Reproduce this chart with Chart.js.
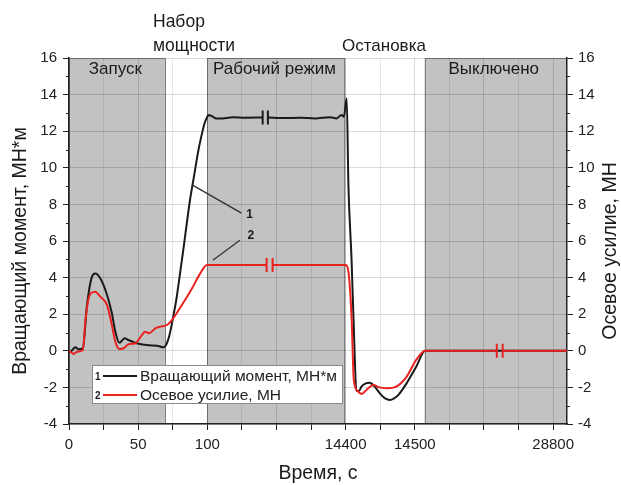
<!DOCTYPE html>
<html><head><meta charset="utf-8">
<script src="https://cdn.jsdelivr.net/npm/chart.js@4/dist/chart.umd.min.js"></script>
<style>html,body{margin:0;padding:0;background:#fff;}canvas{display:block}</style>
</head><body>
<canvas id="c" width="621" height="485"></canvas>
<script>
// ---- data (time in seconds, values in MN*m / MN) ----
const torqueTime  = [0,1,3,4.6,7,10,13,16.6,19,22.6,27.5,31,33.5,36.4,40.2,43,49,57.6,63.6,68.4,72,75.6,77.8,79.3,82.6,87.4,90.5,93.4,95.9,98.3,100,193,543,990,1402,2745,3986,5820,6090,6360,8119,9668,11217,12767,13460,13972,14213,14401.5,14404,14408.5,14412,14415.5,14419,14423,14429,14435,14442,14450,14457,14464,14470,14476,14488,14502,14516,18000,24000,28800,30400];
const torqueValue = [0,-0.05,0.1,0.2,0.08,0.13,2.5,4.05,4.23,3.96,3.05,2.05,1.04,0.44,0.68,0.59,0.41,0.3,0.28,0.19,0.68,1.96,2.9,3.7,5.5,8.2,9.6,10.9,11.8,12.5,12.78,12.89,12.83,12.7,12.69,12.76,12.74,12.75,null,12.75,12.72,12.73,12.7,12.76,12.7,12.89,12.79,13.8,9.0,5.0,1.0,-2.2,-2.2,-1.95,-1.78,-1.74,-1.96,-2.35,-2.6,-2.69,-2.6,-2.42,-1.78,-0.87,0,0,0,0,0];
const forceTime   = [0,1,3.4,5.8,10,11.8,14.2,17.1,19,22.6,27.5,31,33.5,36.4,39.5,43,48,52.7,55,58,62.4,66,70.8,74.4,81.6,88.9,94.9,99.7,1500,4000,6228,6540,6846,9000,12000,14399,14403.6,14408.5,14411.8,14418,14423,14430,14440,14449,14461,14473,14488,14502,14517,20000,22507,22835,23163,28800,30400];
const forceValue  = [0,-0.05,-0.17,-0.05,0.04,1.6,2.87,3.2,3.23,2.96,2.5,1.41,0.5,0.1,0.14,0.36,0.41,0.86,1.04,0.96,1.23,1.32,1.41,1.68,2.5,3.41,4.23,4.69,4.69,4.69,4.69,null,4.69,4.69,4.69,4.69,4.42,1.86,-1.6,-2.23,-2.36,-2.14,-1.87,-2.0,-2.05,-1.96,-1.42,-0.5,0,0,0,null,0,0,0];
const torqueBreaks = [5820, 6360];
const forceBreaks  = [6228, 6846, 22507, 23163];
const xTickSeconds = [0, 50, 100, 14400, 14500, 28800];
const phaseNames = ['Запуск', 'Рабочий режим', 'Выключено'];
const phaseStart = [0, 100, 14514];
const phaseEnd   = [70, 14400, 30400];
const seriesNames = ['Вращающий момент, МН*м', 'Осевое усилие, МН'];
// broken time axis: segment boundaries (s) and their positions on the axis
const segSec = [0, 100, 14400, 14515, 28800];
const segPos = [0, 4, 8, 10.3, 14];

function toAxis(t){
  for (let i = 0; i < segSec.length - 1; i++){
    if (t <= segSec[i+1] || i === segSec.length - 2){
      return segPos[i] + (t - segSec[i]) * (segPos[i+1] - segPos[i]) / (segSec[i+1] - segSec[i]);
    }
  }
}
function pts(ts, vs){ return ts.map((t,i)=>({x: toAxis(t), y: vs[i]})); }

const FONT = '"Liberation Sans", Arial, sans-serif';
const BLACK = '#1a1a1a', RED = '#e8221f';
const gridCol = c => (Math.round(c.tick.value) % 2 === 0) ? 'rgba(0,0,0,0.15)' : 'rgba(0,0,0,0.09)';
const tickCol = c => (Math.round(c.tick.value) % 2 === 0) ? '#222' : 'rgba(0,0,0,0)';

const decor = {
  id: 'decor',
  beforeDraw(chart){
    const {ctx, chartArea: a, scales: {x}} = chart;
    ctx.save();
    phaseStart.forEach((s, i) => {
      const x0 = Math.max(a.left, x.getPixelForValue(toAxis(s)));
      const x1 = Math.min(a.right, x.getPixelForValue(toAxis(phaseEnd[i])));
      ctx.fillStyle = '#c2c2c2';
      ctx.fillRect(x0, a.top, x1 - x0, a.bottom - a.top);
      ctx.strokeStyle = '#808080'; ctx.lineWidth = 1;
      ctx.strokeRect(Math.round(x0) + 0.5, Math.round(a.top) + 0.5, Math.round(x1 - x0) - 1, Math.round(a.bottom - a.top) - 1);
    });
    ctx.restore();
  },
  afterDatasetsDraw(chart){
    const {ctx, chartArea: a, scales: {x, y}} = chart;
    ctx.save();
    // break marks
    const drawBreaks = (times, ts, vs, col) => {
      ctx.strokeStyle = col; ctx.lineWidth = 2;
      times.forEach(t => {
        const v = vs[ts.indexOf(t)];
        const px = x.getPixelForValue(toAxis(t)), py = y.getPixelForValue(v);
        ctx.beginPath(); ctx.moveTo(px, py - 7); ctx.lineTo(px, py + 7); ctx.stroke();
      });
    };
    drawBreaks(torqueBreaks, torqueTime, torqueValue, BLACK);
    drawBreaks(forceBreaks, forceTime, forceValue, RED);
    // phase labels
    ctx.fillStyle = '#1a1a1a'; ctx.font = '17px ' + FONT;
    ctx.textAlign = 'center'; ctx.textBaseline = 'alphabetic';
    phaseStart.forEach((s, i) => {
      const x0 = Math.max(a.left, x.getPixelForValue(toAxis(s)));
      const x1 = Math.min(a.right, x.getPixelForValue(toAxis(phaseEnd[i])));
      ctx.fillText(phaseNames[i], (x0 + x1) / 2 - 2, a.top + 16);
    });
    // curve annotations 1 and 2
    ctx.strokeStyle = '#333'; ctx.lineWidth = 1.3;
    const ann = (t, v, dx, dy, lab, lx, ly) => {
      const px = x.getPixelForValue(toAxis(t)), py = y.getPixelForValue(v);
      ctx.beginPath(); ctx.moveTo(px, py); ctx.lineTo(px + dx, py + dy); ctx.stroke();
      ctx.font = 'bold 12px ' + FONT; ctx.textAlign = 'center'; ctx.textBaseline = 'middle';
      ctx.fillText(lab, px + lx, py + ly);
    };
    ann(89.3, 9.05, 49, 28, '1', 57, 30);
    ann(672, 4.95, 27, -20, '2', 38, -25);
    // legend
    const lx = a.left + 23, ly = a.bottom - 59, lw = 250, lh = 38;
    ctx.fillStyle = '#fff'; ctx.fillRect(lx, ly, lw, lh);
    ctx.strokeStyle = '#8a8a8a'; ctx.lineWidth = 1;
    ctx.strokeRect(lx + 0.5, ly + 0.5, lw, lh);
    [BLACK, RED].forEach((col, i) => {
      const ry = ly + 11 + i * 19;
      ctx.fillStyle = '#1a1a1a'; ctx.font = 'bold 10px ' + FONT;
      ctx.textAlign = 'left'; ctx.textBaseline = 'middle';
      ctx.fillText(String(i + 1), lx + 3, ry + 1);
      ctx.strokeStyle = col; ctx.lineWidth = 2;
      ctx.beginPath(); ctx.moveTo(lx + 11, ry); ctx.lineTo(lx + 45, ry); ctx.stroke();
      ctx.font = '15.5px ' + FONT; ctx.fillStyle = '#222';
      ctx.fillText(seriesNames[i], lx + 48, ry + 1);
    });
    ctx.restore();
  },
  afterDraw(chart){
    const {ctx, chartArea: a, scales: {y}} = chart;
    ctx.save();
    // minor ticks on both value axes
    ctx.strokeStyle = '#222'; ctx.lineWidth = 1;
    for (let v = -3; v < 16; v += 2){
      const py = Math.round(y.getPixelForValue(v)) + 0.5;
      ctx.beginPath(); ctx.moveTo(a.left - 3, py); ctx.lineTo(a.left, py);
      ctx.moveTo(a.right, py); ctx.lineTo(a.right + 3, py); ctx.stroke();
    }
    // titles
    ctx.fillStyle = '#1a1a1a';
    ctx.textAlign = 'center'; ctx.textBaseline = 'middle';
    ctx.font = '19.5px ' + FONT;
    ctx.fillText('Время, с', (a.left + a.right) / 2, 474);
    ctx.save(); ctx.translate(21, 251); ctx.rotate(-Math.PI / 2);
    ctx.fillText('Вращающий момент, МН*м', 0, 0); ctx.restore();
    ctx.save(); ctx.translate(611, 251); ctx.rotate(-Math.PI / 2);
    ctx.fillText('Осевое усилие, МН', 0, 0); ctx.restore();
    ctx.font = '17.5px ' + FONT; ctx.textAlign = 'left'; ctx.textBaseline = 'alphabetic';
    ctx.fillText('Набор', 153, 27);
    ctx.fillText('мощности', 153, 51);
    ctx.font = '17px ' + FONT;
    ctx.fillText('Остановка', 342, 51);
    ctx.restore();
  }
};

const yTicksCfg = {
  stepSize: 1, font: {family: FONT, size: 15}, color: '#222', padding: 6,
  callback: v => (Math.round(v) % 2 === 0) ? String(v) : ''
};

new Chart(document.getElementById('c'), {
  type: 'line',
  data: {
    datasets: [
      {label: seriesNames[0], data: pts(torqueTime, torqueValue), borderColor: BLACK, borderWidth: 2, pointRadius: 0, cubicInterpolationMode: 'monotone', spanGaps: false, yAxisID: 'y', order: 2},
      {label: seriesNames[1], data: pts(forceTime, forceValue), borderColor: RED, borderWidth: 2, pointRadius: 0, cubicInterpolationMode: 'monotone', spanGaps: false, yAxisID: 'y', order: 1}
    ]
  },
  options: {
    responsive: false, animation: false, devicePixelRatio: 1,
    layout: {padding: {top: 58, left: 0, right: 0, bottom: 0}},
    plugins: {legend: {display: false}, tooltip: {enabled: false}},
    scales: {
      x: {
        type: 'linear', position: 'bottom', min: 0, max: 14.4,
        afterFit: s => { s.height = 61; },
        ticks: {stepSize: 1, includeBounds: false, autoSkip: false, maxRotation: 0, padding: 6,
          font: {family: FONT, size: 15}, color: '#222',
          callback: v => { const s = xTickSeconds.find(t => Math.abs(toAxis(t) - v) < 1e-6); return s === undefined ? '' : String(s); }},
        grid: {color: gridCol, tickColor: '#222', tickLength: 6},
        border: {color: '#222', width: 1.5}
      },
      y: {
        position: 'left', min: -4, max: 16,
        afterFit: s => { s.width = 69; },
        ticks: yTicksCfg,
        grid: {color: gridCol, tickColor: tickCol, tickLength: 6},
        border: {color: '#222', width: 1.5}
      },
      y2: {
        position: 'right', min: -4, max: 16,
        afterFit: s => { s.width = 54; },
        ticks: Object.assign({}, yTicksCfg, {padding: 5}),
        grid: {drawOnChartArea: false, tickColor: tickCol, tickLength: 6},
        border: {color: '#222', width: 1.5}
      }
    }
  },
  plugins: [decor]
});
</script>
</body></html>
